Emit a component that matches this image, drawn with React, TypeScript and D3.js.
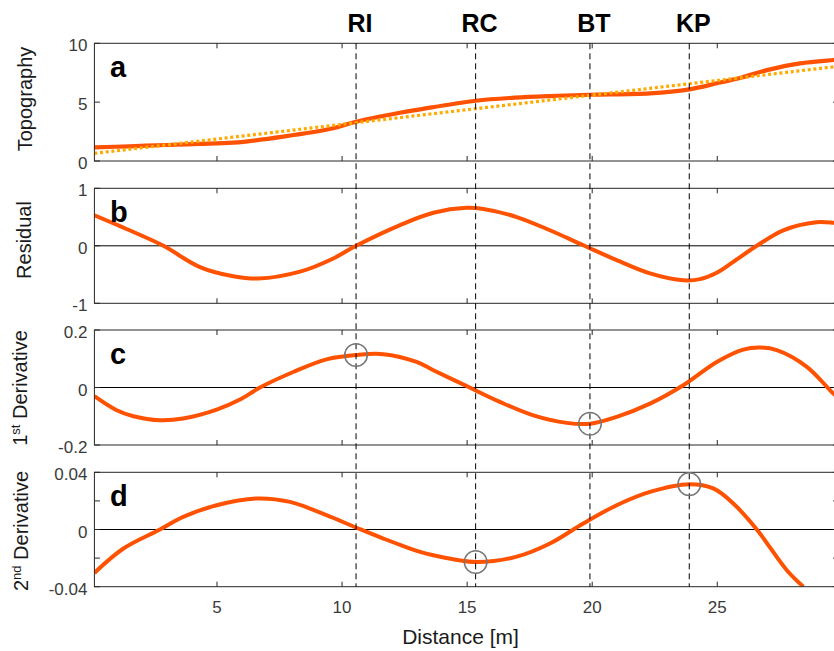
import React from "react";
import * as d3 from "d3";

// ---------- data ----------
const xTicks = [5, 10, 15, 20, 25];

const topoDist = [0.1, 1.5, 2.99, 4.3, 5.65, 7.65, 9.65, 10.56, 12.32, 13.12, 15.34, 16.9, 18.31, 19.91, 22.31, 23.88, 24.98, 25.98, 26.98, 28.31, 29.64, 29.85];
const topoValues = [1.16, 1.25, 1.36, 1.45, 1.56, 2.07, 2.78, 3.34, 4.1, 4.39, 5.12, 5.38, 5.52, 5.63, 5.75, 6.09, 6.6, 7.1, 7.72, 8.3, 8.58, 8.62];

const fitDist = [0.1, 29.85];
const fitValues = [0.65, 8.05];

const residDist = [0.1, 1.66, 2.86, 4.32, 5.65, 6.65, 8.32, 9.65, 10.56, 12.32, 13.65, 14.98, 15.65, 16.98, 18.31, 19.64, 20.98, 22.31, 23.64, 24.31, 24.98, 25.64, 26.58, 27.64, 28.97, 29.64, 29.85];
const residValues = [0.53, 0.24, 0.0, -0.37, -0.53, -0.57, -0.45, -0.22, 0.0, 0.36, 0.575, 0.66, 0.64, 0.5, 0.27, 0.01, -0.25, -0.48, -0.6, -0.58, -0.47, -0.28, 0.0, 0.27, 0.41, 0.4, 0.39];

const d1Dist = [0.1, 0.99, 1.66, 2.72, 3.65, 4.99, 5.92, 6.72, 8.05, 9.38, 10.56, 11.65, 12.98, 13.65, 14.98, 16.31, 17.65, 18.98, 19.91, 20.98, 22.31, 23.64, 24.98, 26.04, 26.71, 27.38, 28.58, 29.64, 29.85];
const d1Values = [-0.03, -0.079, -0.1, -0.114, -0.108, -0.077, -0.042, 0.0, 0.054, 0.098, 0.113, 0.116, 0.089, 0.06, 0.005, -0.05, -0.097, -0.123, -0.126, -0.102, -0.056, 0.008, 0.089, 0.132, 0.139, 0.13, 0.072, -0.021, -0.035];

const d2Dist = [0.1, 1.26, 2.72, 3.65, 4.99, 6.59, 7.92, 9.38, 10.56, 11.65, 13.12, 13.65, 15.34, 16.98, 18.31, 19.64, 20.98, 22.31, 23.88, 24.84, 25.64, 26.58, 27.78, 28.44];
const d2Values = [-0.0304, -0.0133, 0.0, 0.0088, 0.017, 0.0217, 0.0193, 0.01, 0.0014, -0.0063, -0.0157, -0.018, -0.0227, -0.019, -0.0098, 0.0042, 0.017, 0.0263, 0.0317, 0.0287, 0.0182, 0.0, -0.0285, -0.04];

const markerNames = ["RI", "RC", "BT", "KP"];
const markerDist = [10.56, 15.34, 19.91, 23.88];

const d1CircleDist = [10.56, 19.91];
const d1CircleValues = [0.113, -0.126];
const d2CircleDist = [15.34, 23.88];
const d2CircleValues = [-0.0227, 0.0317];

const panelLetters = ["a", "b", "c", "d"];
const yDomains = [[0, 10], [-1, 1], [-0.2, 0.2], [-0.04, 0.04]];
const yTickValues = [[0, 5, 10], [-1, 0, 1], [-0.2, 0, 0.2], [-0.04, -0.02, 0, 0.02, 0.04]];
const yTickLabels = [["0", "5", "10"], ["-1", "0", "1"], ["-0.2", "0", "0.2"], ["-0.04", "", "0", "", "0.04"]];

// ---------- layout ----------
const W = 834;
const H = 651;
const LEFT = 94.4;
const RIGHT = 838.6;
const TOPS = [43.3, 188.3, 330, 472.3];
const BOTTOMS = [161, 303.3, 445, 586.7];
const YLABEL_CENTERS = [99, 240, 388, 531];
const YLABEL_X = [31.5, 31, 27, 27.5];
const FONT = "'Liberation Sans', Arial, Helvetica, sans-serif";
const LINE_COLOR = "#FF5200";
const FIT_COLOR = "#FFAA00";
const AXIS_COLOR = "#262626";
const TICK_TEXT = "#3a3a3a";

const x = d3.scaleLinear().domain([0.1, 29.85]).range([LEFT, RIGHT]);

function makeY(i: number) {
  return d3.scaleLinear().domain(yDomains[i]).range([BOTTOMS[i], TOPS[i]]);
}

function pathFor(dist: number[], vals: number[], y: d3.ScaleLinear<number, number>) {
  const line = d3
    .line<number>()
    .x((_, k) => x(dist[k]))
    .y((v) => y(v))
    .curve(d3.curveCatmullRom.alpha(0.5));
  return line(vals) || "";
}

function YLabel({ i }: { i: number }) {
  const cx = YLABEL_X[i];
  const cy = YLABEL_CENTERS[i];
  const common = {
    transform: `translate(${cx},${cy}) rotate(-90)`,
    textAnchor: "middle" as const,
    fontFamily: FONT,
    fontSize: 20,
    fill: "#1a1a1a",
  };
  if (i === 0) return <text {...common}>Topography</text>;
  if (i === 1) return <text {...common}>Residual</text>;
  if (i === 2)
    return (
      <text {...common}>
        1<tspan fontSize={13} dy={-7}>st</tspan>
        <tspan dy={7}> Derivative</tspan>
      </text>
    );
  return (
    <text {...common}>
      2<tspan fontSize={13} dy={-7}>nd</tspan>
      <tspan dy={7}> Derivative</tspan>
    </text>
  );
}

function Panel({ i }: { i: number }) {
  const y = makeY(i);
  const top = TOPS[i];
  const bottom = BOTTOMS[i];
  const clipId = `clip-${i}`;
  let content: React.ReactNode = null;
  if (i === 0) {
    content = (
      <>
        <path d={pathFor(topoDist, topoValues, y)} fill="none" stroke={LINE_COLOR} strokeWidth={4.2} strokeLinecap="round" />
        <path d={pathFor(fitDist, fitValues, y)} fill="none" stroke={FIT_COLOR} strokeWidth={3.2} strokeDasharray="3,2.7" />
      </>
    );
  } else if (i === 1) {
    content = <path d={pathFor(residDist, residValues, y)} fill="none" stroke={LINE_COLOR} strokeWidth={4} />;
  } else if (i === 2) {
    content = <path d={pathFor(d1Dist, d1Values, y)} fill="none" stroke={LINE_COLOR} strokeWidth={4} />;
  } else {
    content = <path d={pathFor(d2Dist, d2Values, y)} fill="none" stroke={LINE_COLOR} strokeWidth={4} />;
  }
  return (
    <g>
      <defs>
        <clipPath id={clipId}>
          <rect x={LEFT} y={top} width={RIGHT - LEFT} height={bottom - top} />
        </clipPath>
      </defs>
      {i > 0 && (
        <line x1={LEFT} x2={RIGHT} y1={y(0)} y2={y(0)} stroke="#000" strokeWidth={1} />
      )}
      <g clipPath={`url(#${clipId})`}>{content}</g>
      {/* box */}
      <rect x={LEFT} y={top} width={RIGHT - LEFT} height={bottom - top} fill="none" stroke={AXIS_COLOR} strokeWidth={1} />
      {/* x ticks inward */}
      {xTicks.map((t) => (
        <g key={`xt${t}`}>
          <line x1={x(t)} x2={x(t)} y1={bottom} y2={bottom - 5} stroke={AXIS_COLOR} strokeWidth={1} />
          <line x1={x(t)} x2={x(t)} y1={top} y2={top + 5} stroke={AXIS_COLOR} strokeWidth={1} />
        </g>
      ))}
      {/* y ticks inward */}
      {yTickValues[i].map((t, k) => (
        <g key={`yt${k}`}>
          <line x1={LEFT} x2={LEFT + 5.5} y1={y(t)} y2={y(t)} stroke={AXIS_COLOR} strokeWidth={1} />
          <line x1={RIGHT} x2={RIGHT - 5.5} y1={y(t)} y2={y(t)} stroke={AXIS_COLOR} strokeWidth={1} />
          {yTickLabels[i][k] !== "" && (
            <text x={LEFT - 7} y={y(t) + 8} textAnchor="end" fontFamily={FONT} fontSize={17} fill={TICK_TEXT}>
              {yTickLabels[i][k]}
            </text>
          )}
        </g>
      ))}
      <text x={110} y={top + 34} fontFamily={FONT} fontSize={29} fontWeight="bold" fill="#000">
        {panelLetters[i]}
      </text>
      <YLabel i={i} />
    </g>
  );
}

export default function App() {
  const yC = makeY(2);
  const yD = makeY(3);
  return (
    <svg
      width={W}
      height={H}
      viewBox={`0 0 ${W} ${H}`}
      style={{ position: "fixed", left: 0, top: 0, background: "#fff" }}
    >
      <rect x={0} y={0} width={W} height={H} fill="#fff" />
      {[0, 1, 2, 3].map((i) => (
        <Panel key={i} i={i} />
      ))}
      {/* vertical dashed markers */}
      {markerDist.map((d, k) => (
        <g key={`m${k}`}>
          <line x1={x(d)} x2={x(d)} y1={TOPS[0]} y2={BOTTOMS[3]} stroke="#000" strokeWidth={1} strokeDasharray="6,4" />
          <text x={x(d) + 4} y={31.5} textAnchor="middle" fontFamily={FONT} fontSize={25} fontWeight="bold" fill="#000">
            {markerNames[k]}
          </text>
        </g>
      ))}
      {/* circles */}
      {d1CircleDist.map((d, k) => (
        <circle key={`c1${k}`} cx={x(d)} cy={yC(d1CircleValues[k])} r={11.3} fill="none" stroke="#777" strokeWidth={1.5} />
      ))}
      {d2CircleDist.map((d, k) => (
        <circle key={`c2${k}`} cx={x(d)} cy={yD(d2CircleValues[k])} r={11.3} fill="none" stroke="#777" strokeWidth={1.5} />
      ))}
      {/* x tick labels on bottom panel */}
      {xTicks.map((t) => (
        <text key={`xl${t}`} x={x(t)} y={613} textAnchor="middle" fontFamily={FONT} fontSize={17} fill={TICK_TEXT}>
          {t}
        </text>
      ))}
      <text x={460.5} y={644} textAnchor="middle" fontFamily={FONT} fontSize={21} fill="#1a1a1a">
        Distance [m]
      </text>
    </svg>
  );
}
